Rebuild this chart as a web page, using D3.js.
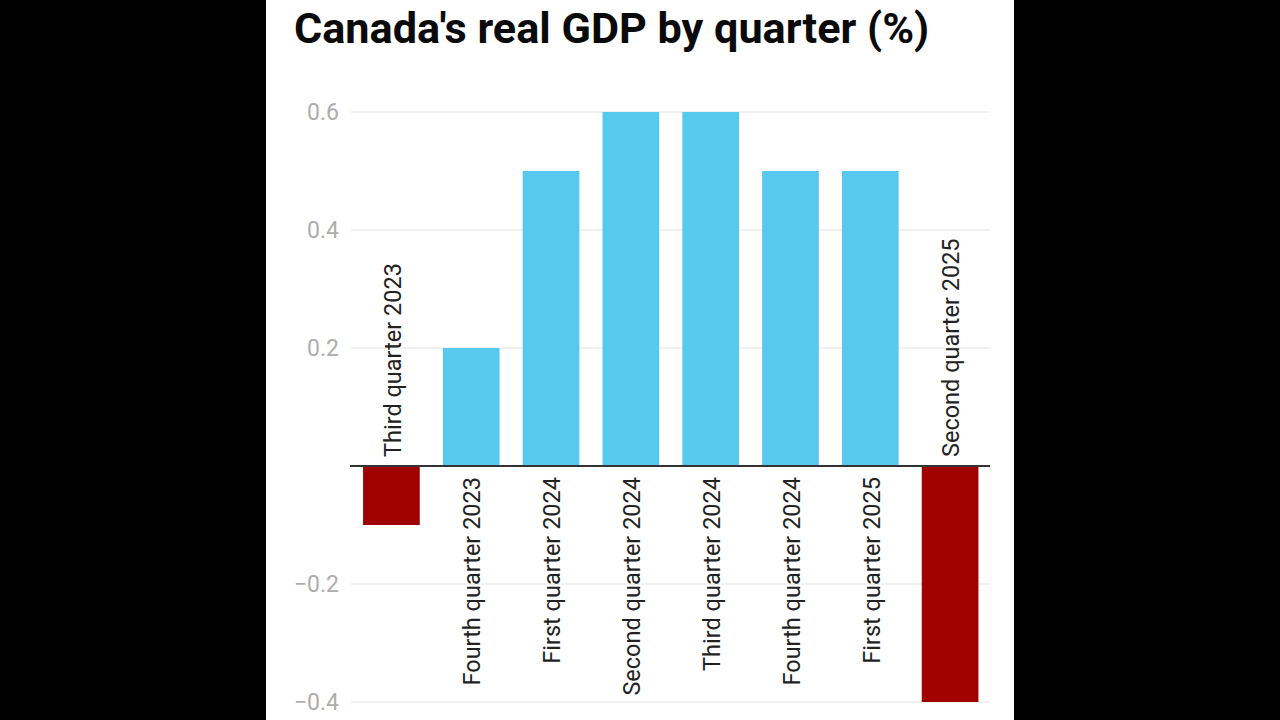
<!DOCTYPE html>
<html>
<head>
<meta charset="utf-8">
<script src="https://cdn.jsdelivr.net/npm/d3@7"></script>
<style>
  html, body { margin: 0; padding: 0; background: #000; }
  text { font-family: Roboto, sans-serif; }
</style>
</head>
<body>
<script>
var quarters = ["Third quarter 2023", "Fourth quarter 2023", "First quarter 2024", "Second quarter 2024",
  "Third quarter 2024", "Fourth quarter 2024", "First quarter 2025", "Second quarter 2025"];
var gdp = [-0.1, 0.2, 0.5, 0.6, 0.6, 0.5, 0.5, -0.4];
var yTicks = [-0.4, -0.2, 0.2, 0.4, 0.6];

var svg = d3.select("body").append("svg")
  .attr("width", 1280)
  .attr("height", 720)
  .style("display", "block");

// white page in the middle of the black frame
svg.append("rect")
  .attr("x", 266).attr("y", 0)
  .attr("width", 748).attr("height", 720)
  .attr("fill", "#fff");

svg.append("text")
  .attr("x", 294).attr("y", 42.5)
  .attr("font-size", 43.2)
  .attr("font-weight", 700)
  .attr("fill", "#0a0a0a")
  .text("Canada's real GDP by quarter (%)");

var yScale = d3.scaleLinear().domain([-0.4, 0.6]).range([702, 112]);
var xScale = d3.scaleBand().domain(quarters).range([351.5, 990]).paddingInner(0.29).paddingOuter(0.145);

var yAxis = d3.axisLeft(yScale)
  .tickValues(yTicks)
  .tickSize(0)
  .tickPadding(0)
  .tickFormat(d => d3.format(".1f")(d).replace("-", "\u2212"));

var axisGroup = svg.append("g")
  .attr("transform", "translate(339,0)")
  .call(yAxis);
axisGroup.select(".domain").remove();
axisGroup.selectAll("text")
  .attr("font-size", 23)
  .attr("fill", "#adadad")
  .style("font-family", "Roboto, sans-serif");

svg.append("g").selectAll("line")
  .data(yTicks)
  .enter()
  .append("line")
  .attr("x1", 351).attr("x2", 990)
  .attr("y1", d => yScale(d)).attr("y2", d => yScale(d))
  .attr("stroke", "#ececec")
  .attr("stroke-width", 1.5);

svg.append("g").selectAll("rect")
  .data(gdp)
  .enter()
  .append("rect")
  .attr("x", (d, i) => xScale(quarters[i]))
  .attr("y", d => yScale(Math.max(d, 0)))
  .attr("width", xScale.bandwidth())
  .attr("height", d => Math.abs(yScale(d) - yScale(0)))
  .attr("fill", d => d < 0 ? "#a00000" : "#57c8ee");

svg.append("line")
  .attr("x1", 350).attr("x2", 990)
  .attr("y1", yScale(0)).attr("y2", yScale(0))
  .attr("stroke", "#333")
  .attr("stroke-width", 2);

// labels sit above the zero line for negative bars, below it for positive ones
svg.append("g").selectAll("text")
  .data(gdp)
  .enter()
  .append("text")
  .attr("transform", (d, i) => {
    var x = xScale(quarters[i]) + xScale.bandwidth() / 2 + 1;
    var y = d < 0 ? yScale(0) - 9 : yScale(0) + 11;
    return `translate(${x},${y}) rotate(-90)`;
  })
  .attr("text-anchor", d => d < 0 ? "start" : "end")
  .attr("dy", "0.35em")
  .attr("font-size", 23.5)
  .attr("fill", "#222")
  .text((d, i) => quarters[i]);
</script>
</body>
</html>
